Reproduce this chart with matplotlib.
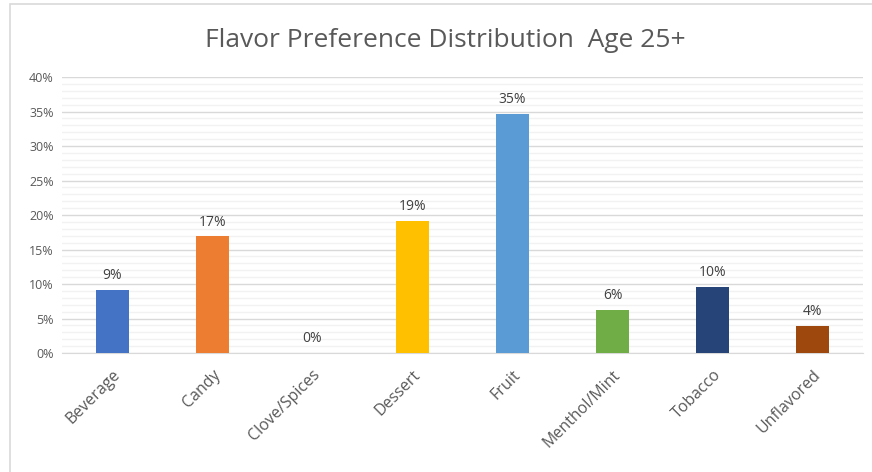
import matplotlib.pyplot as plt
from matplotlib.patches import Rectangle
from matplotlib.ticker import MultipleLocator, PercentFormatter

plt.rcParams['font.family'] = ['Open Sans', 'DejaVu Sans']

flavors = ["Beverage", "Candy", "Clove/Spices", "Dessert", "Fruit",
           "Menthol/Mint", "Tobacco", "Unflavored"]
shares = [9.2, 16.9, 0.0, 19.2, 34.6, 6.2, 9.6, 3.9]
colors = ["#4472C4", "#ED7D31", "#A5A5A5", "#FFC000", "#5B9BD5",
          "#70AD47", "#264478", "#9E480E"]

fig = plt.figure(figsize=(8.72, 4.72), dpi=100)
ax = fig.add_axes([0.0711, 0.2521, 0.9186, 0.5847])

# chart frame (top and left edges)
fig.patches.append(Rectangle((10 / 872, -0.1), 1.2, 1 - 4 / 472 + 0.1,
                             transform=fig.transFigure, fill=False,
                             edgecolor="#D9D9D9", linewidth=1.2))

x = range(len(flavors))
ax.bar(x, shares, width=0.33, color=colors, zorder=3)

for i, v in enumerate(shares):
    ax.text(i, v + 1.0, f"{v:.0f}%", ha="center", va="bottom",
            fontsize=10, color="#404040")

ax.set_xlim(-0.5, len(flavors) - 0.5)
ax.set_ylim(0, 40)
ax.yaxis.set_major_locator(MultipleLocator(5))
ax.yaxis.set_minor_locator(MultipleLocator(1))
ax.yaxis.set_major_formatter(PercentFormatter(decimals=0))
ax.grid(axis="y", which="major", color="#D9D9D9", linewidth=1, zorder=0)
ax.grid(axis="y", which="minor", color="#F2F2F2", linewidth=1, zorder=0)

for s in ["top", "right", "left"]:
    ax.spines[s].set_visible(False)
ax.spines["bottom"].set_color("#D9D9D9")

ax.set_xticks(list(x))
ax.set_xticklabels(flavors, rotation=45, ha="right", rotation_mode="anchor",
                   fontsize=11.5, color="#595959")
ax.tick_params(axis="x", length=0, pad=10)
ax.tick_params(axis="y", which="both", length=0, labelsize=9,
               labelcolor="#595959", pad=6)

fig.text(0.511, 0.915, "Flavor Preference Distribution  Age 25+",
         ha="center", va="center", fontsize=19, color="#595959")

fig.savefig("out.png", dpi=100)
